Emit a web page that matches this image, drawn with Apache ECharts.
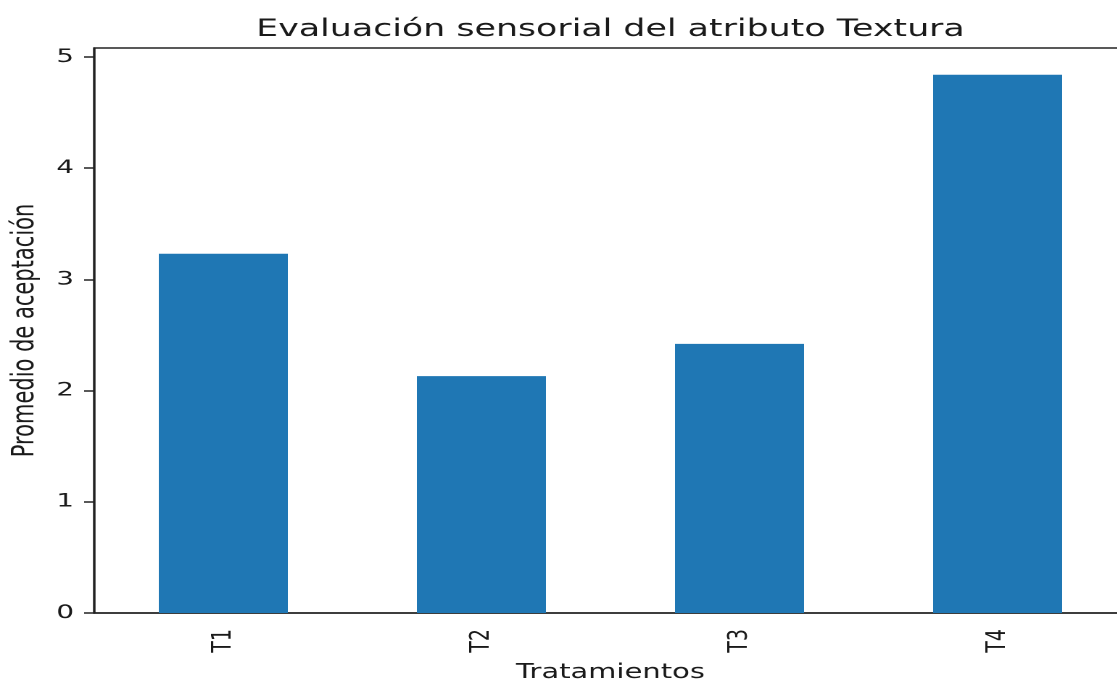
<!DOCTYPE html>
<html>
<head>
<meta charset="utf-8">
<script src="https://cdn.jsdelivr.net/npm/echarts@6/dist/echarts.min.js"></script>
<style>
  html, body { margin: 0; padding: 0; background: #fff; overflow: hidden; }
  /* la figura original está estirada en horizontal */
  #chart { width: 771px; height: 684px; transform: scaleX(1.45); transform-origin: 0 0; }
</style>
</head>
<body>
<div id="chart"></div>
<script>
const tratamientos = ['T1', 'T2', 'T3', 'T4'];
const promedios = [3.23, 2.13, 2.42, 4.84];
const yTicks = [0, 1, 2, 3, 4, 5];

const textColor = '#1a1a1a';
const chart = echarts.init(document.getElementById('chart'), null, { devicePixelRatio: 2 });

chart.setOption({
    animation: false,
    title: {
        text: 'Evaluación sensorial del atributo Textura',
        left: 416,
        textAlign: 'center',
        top: 13,
        textStyle: {
            fontFamily: 'DejaVu Sans',
            fontSize: 24,
            fontWeight: 'normal',
            color: textColor,
        },
    },
    grid: {
        left: 65,
        top: 48,
        width: 712,
        bottom: 71,
        outerBoundsMode: 'none',
        show: true,
        borderColor: '#222',
        borderWidth: 1.5,
    },
    xAxis: {
        type: 'category',
        data: tratamientos,
        name: 'Tratamientos',
        nameLocation: 'middle',
        nameGap: 50,
        nameTextStyle: {
            fontFamily: 'DejaVu Sans',
            fontSize: 20,
            color: textColor,
        },
        axisLine: { lineStyle: { color: '#222', width: 1.5 } },
        axisTick: { alignWithLabel: true, length: 7, lineStyle: { color: '#222', width: 1.5 } },
        axisLabel: {
            rotate: 90,
            margin: 16,
            fontFamily: 'DejaVu Sans',
            fontSize: 19,
            color: textColor,
        },
    },
    yAxis: {
        type: 'value',
        min: 0,
        max: 5.08,
        interval: 1,
        name: 'Promedio de aceptación',
        nameLocation: 'middle',
        nameGap: 34,
        nameTextStyle: {
            fontFamily: 'DejaVu Sans',
            fontSize: 21,
            color: textColor,
        },
        splitLine: { show: false },
        axisLine: { show: true, lineStyle: { color: '#222', width: 1.5 } },
        axisTick: { show: true, length: 7, customValues: yTicks, lineStyle: { color: '#222', width: 1.5 } },
        axisLabel: {
            customValues: yTicks,
            margin: 14,
            fontFamily: 'DejaVu Sans',
            fontSize: 19,
            color: textColor,
        },
    },
    series: [
        {
            type: 'bar',
            data: promedios,
            barWidth: '50%',
            itemStyle: { color: '#1f77b4' },
        },
    ],
});
</script>
</body>
</html>
